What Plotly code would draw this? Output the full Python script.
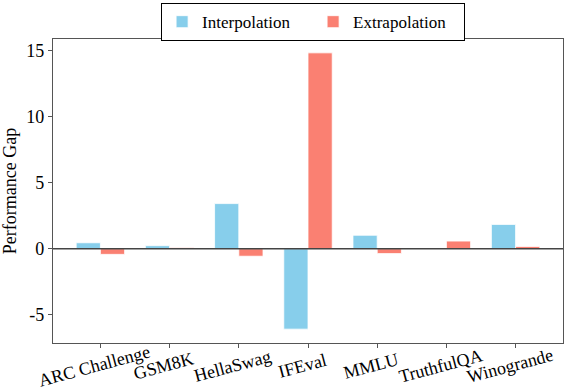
import plotly.graph_objects as go

categories = ["ARC Challenge", "GSM8K", "HellaSwag", "IFEval", "MMLU", "TruthfulQA", "Winogrande"]
interpolation = [0.45, 0.23, 3.42, -6.1, 1.02, 0.0, 1.84]
extrapolation = [-0.43, 0.08, -0.57, 14.85, -0.37, 0.58, 0.17]
ytick_vals = [-5, 0, 5, 10, 15]
ytick_text = ["-5", "0", "5", "10", "15"]

FONT = "Liberation Serif, Times New Roman, serif"
FS = 18
xs = list(range(len(categories)))

fig = go.Figure()
fig.add_trace(go.Bar(x=xs, y=interpolation, name="Interpolation",
                     marker=dict(color="#87CEEB", line=dict(color="white", width=0.8))))
fig.add_trace(go.Bar(x=xs, y=extrapolation, name="Extrapolation",
                     marker=dict(color="#FA8072", line=dict(color="white", width=0.8))))

# zero reference line
fig.add_shape(type="line", xref="paper", x0=0, x1=1, yref="y", y0=0, y1=0,
              line=dict(color="#444444", width=1.5), layer="above")

# rotated category labels
for i, c in enumerate(categories):
    fig.add_annotation(x=i, y=0, xref="x", yref="paper", text=c, showarrow=False,
                       textangle=-15, xanchor="center", yanchor="middle",
                       yshift=-23, xshift=-6,
                       font=dict(family=FONT, size=FS, color="black"))

fig.update_layout(
    width=565, height=388,
    margin=dict(l=53, r=2, t=39, b=45),
    barmode="group", bargap=0.3, bargroupgap=0,
    plot_bgcolor="white", paper_bgcolor="white",
    font=dict(family=FONT, size=FS, color="black"),
    showlegend=True,
    legend=dict(orientation="h", x=0.51, xanchor="center", y=1.118, yanchor="top",
                bordercolor="black", borderwidth=1, bgcolor="white",
                entrywidth=106, entrywidthmode="pixels",
                font=dict(family=FONT, size=17, color="black")),
    xaxis=dict(range=[-0.685, 6.685], tickvals=xs, ticktext=[""] * len(xs),
               showgrid=False, zeroline=False, showline=True, mirror=True,
               linecolor="#555555", linewidth=1.3, ticks="outside", ticklen=4,
               tickcolor="#555555", tickwidth=1.2),
    yaxis=dict(range=[-7.15, 15.9], tickvals=ytick_vals, ticktext=ytick_text,
               showgrid=False, zeroline=False, showline=True, mirror=True,
               linecolor="#555555", linewidth=1.3, ticks="outside", ticklen=4,
               tickcolor="#555555", tickwidth=1.2,
               title=dict(text="Performance Gap", font=dict(family=FONT, size=FS, color="black"),
                          standoff=6),
               tickfont=dict(family=FONT, size=FS, color="black")),
)

fig.write_html("out.html")
